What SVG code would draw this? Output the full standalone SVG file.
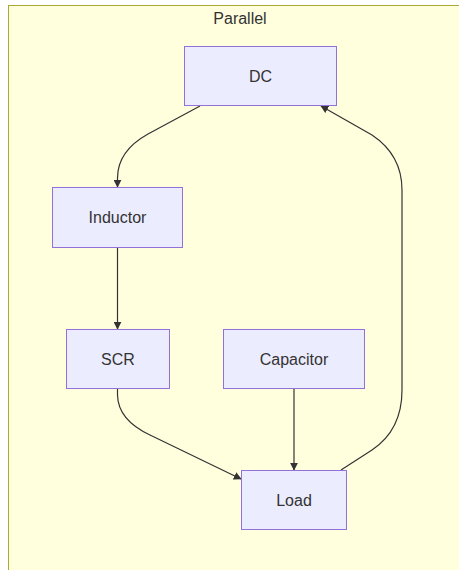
<svg xmlns="http://www.w3.org/2000/svg" width="459" height="570" viewBox="0 0 459 570">
<style>
.cluster{fill:#ffffde;stroke:#aaaa33;stroke-width:1}
.node rect{fill:#ECECFF;stroke:#9370DB;stroke-width:1}
text{font-family:"Liberation Sans",Arial,sans-serif;font-size:16px;fill:#333;text-anchor:middle;dominant-baseline:central}
.edge{fill:none;stroke:#333;stroke-width:1.2}
</style>
<defs>
<marker id="arrow" viewBox="0 0 10 10" refX="9" refY="5" markerWidth="8" markerHeight="8" markerUnits="userSpaceOnUse" orient="auto">
<path d="M0,0 L10,5 L0,10 z" fill="#333"/>
</marker>
</defs>
<g id="cluster-Parallel">
<rect class="cluster" x="8.5" y="5.5" width="460" height="570"/>
<text x="240" y="18">Parallel</text>
</g>
<g id="connectors">
<path class="edge" d="M200,106 L148,134 Q117.5,151 117.5,178 L117.5,187" marker-end="url(#arrow)"/>
<path class="edge" d="M117.5,247.5 L117.5,329" marker-end="url(#arrow)"/>
<path class="edge" d="M117.5,388.5 L117.5,395 Q118,420 150,435 L241,479" marker-end="url(#arrow)"/>
<path class="edge" d="M294,388.5 L294,470" marker-end="url(#arrow)"/>
<path class="edge" d="M341,470 L372,450 Q402,430 402,390 L402,190 Q402,155 372,135 L321,106" marker-end="url(#arrow)"/>
</g>
<g id="DC" class="node"><rect x="184.5" y="46.5" width="152" height="59"/><text x="260.5" y="76">DC</text></g>
<g id="Inductor" class="node"><rect x="52.5" y="187.5" width="130" height="60"/><text x="117.5" y="217.5">Inductor</text></g>
<g id="SCR" class="node"><rect x="66.5" y="329.5" width="103" height="59"/><text x="118" y="359">SCR</text></g>
<g id="Capacitor" class="node"><rect x="223.5" y="329.5" width="141" height="59"/><text x="294" y="359">Capacitor</text></g>
<g id="Load" class="node"><rect x="241.5" y="470.5" width="105" height="59"/><text x="294" y="500">Load</text></g>
</svg>
